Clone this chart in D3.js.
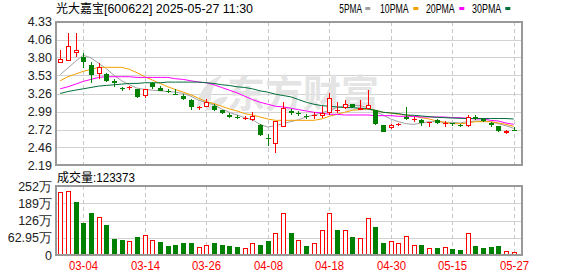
<!DOCTYPE html>
<html><head><meta charset="utf-8">
<script src="https://cdn.jsdelivr.net/npm/d3@7/dist/d3.min.js"></script>
<style>body{margin:0;background:#fff}svg{display:block}</style>
</head><body>
<svg id="c" width="578" height="276"></svg>
<script>
// ---------- data ----------
const dates = ["02-27","02-28","03-03","03-04","03-05","03-06","03-07","03-10","03-11","03-12",
"03-13","03-14","03-17","03-18","03-19","03-20","03-21","03-24","03-25","03-26",
"03-27","03-28","03-31","04-01","04-02","04-03","04-07","04-08","04-09","04-10",
"04-11","04-14","04-15","04-16","04-17","04-18","04-21","04-22","04-23","04-24",
"04-25","04-28","04-29","04-30","05-06","05-07","05-08","05-09","05-12","05-13",
"05-14","05-15","05-16","05-19","05-20","05-21","05-22","05-23","05-26","05-27"];
const open  = [3.71,3.75,3.87,3.80,3.685,3.55,3.55,3.44,3.34,3.33, 3.33,3.22,3.41,3.34,3.30,3.26,3.22,3.17,3.05,3.07,
3.08,3.01,2.94,2.905,2.88,2.86,2.79,2.59,2.51,2.77, 3.00,2.97,2.93,2.94,2.915,2.96,3.01,3.05,3.10,3.025,
3.03,3.01,2.79,2.745,2.79,2.91,2.87,2.865,2.81,2.865, 2.815,2.82,2.795,2.765,2.915,2.875,2.815,2.78,2.675,2.72];
const high  = [3.91,4.16,4.16,3.86,3.73,3.72,3.57,3.48,3.36,3.37, 3.33,3.33,3.43,3.37,3.32,3.32,3.25,3.18,3.08,3.18,
3.10,3.02,2.97,2.935,2.92,2.98,2.80,2.66,2.85,3.13, 3.03,3.00,2.96,2.98,3.07,3.27,3.13,3.17,3.11,3.16,
3.31,3.015,2.79,2.805,2.82,3.065,2.905,2.885,2.835,2.875, 2.845,2.825,2.805,2.935,2.935,2.885,2.835,2.78,2.71,2.755];
const low   = [3.71,3.75,3.80,3.64,3.41,3.48,3.43,3.35,3.30,3.31, 3.20,3.20,3.33,3.29,3.27,3.24,3.16,3.02,3.02,3.06,
2.995,2.955,2.89,2.875,2.87,2.85,2.63,2.48,2.38,2.76, 2.945,2.925,2.885,2.875,2.895,2.945,2.975,3.035,3.04,3.015,
3.025,2.795,2.68,2.725,2.78,2.865,2.835,2.775,2.765,2.805, 2.765,2.775,2.76,2.765,2.86,2.83,2.765,2.69,2.655,2.705];
const close = [3.77,3.97,3.91,3.73,3.54,3.65,3.44,3.41,3.33,3.35, 3.21,3.32,3.35,3.30,3.29,3.255,3.17,3.06,3.06,3.14,
3.02,2.97,2.91,2.885,2.89,2.92,2.64,2.58,2.85,3.05, 2.965,2.965,2.92,2.945,2.965,3.19,3.02,3.11,3.05,3.05,
3.09,2.80,2.69,2.79,2.81,2.875,2.88,2.815,2.83,2.825, 2.825,2.815,2.78,2.905,2.885,2.845,2.785,2.70,2.705,2.715];
// volume in 万
const volume = [230,233,194,116,153,138,109,59,56,51, 65,73,56,48,34,36,44,44,29,36,
44,36,34,29,27,46,36,51,82,153, 80,56,34,44,92,153,92,92,65,63,
136,104,44,51,44,70,36,36,27,27, 29,24,19,80,34,27,29,34,15,12.34];
const ma5  = [3.54,3.64,3.74,3.83,3.79,3.71,3.63,3.53,3.45,3.39, 3.34,3.32,3.31,3.30,3.29,3.28,3.26,3.22,3.16,3.13,
3.09,3.03,2.98,2.94,2.90,2.87,2.80,2.76,2.78,2.81, 2.84,2.87,2.91,2.94,2.97,3.01,3.05,3.08,3.08,3.08,
3.05,2.99,2.94,2.88,2.84,2.81,2.80,2.82,2.84,2.84, 2.83,2.83,2.82,2.84,2.85,2.85,2.84,2.81,2.78,2.74];
const ma10 = [3.45,3.51,3.55,3.59,3.62,3.65,3.65,3.65,3.65,3.62, 3.57,3.51,3.46,3.41,3.36,3.32,3.28,3.24,3.19,3.14,
3.11,3.07,3.03,3.00,2.96,2.94,2.91,2.88,2.86,2.86, 2.86,2.86,2.86,2.86,2.88,2.92,2.95,2.98,3.01,3.02,
3.03,3.01,2.98,2.97,2.95,2.94,2.92,2.90,2.88,2.85, 2.83,2.81,2.81,2.82,2.84,2.84,2.84,2.82,2.80,2.77];
const ma20 = [3.33,3.36,3.40,3.44,3.47,3.50,3.51,3.51,3.51,3.51, 3.50,3.50,3.50,3.50,3.50,3.48,3.47,3.45,3.43,3.42,
3.39,3.35,3.31,3.27,3.22,3.17,3.13,3.10,3.07,3.06, 3.04,3.02,3.00,2.98,2.97,2.95,2.95,2.94,2.94,2.94,
2.94,2.93,2.93,2.93,2.92,2.92,2.92,2.91,2.91,2.91, 2.91,2.90,2.90,2.89,2.88,2.88,2.86,2.85,2.82,2.80];
const ma30 = [3.26,3.29,3.31,3.33,3.35,3.37,3.38,3.39,3.40,3.41, 3.41,3.42,3.42,3.42,3.43,3.43,3.43,3.43,3.43,3.42,
3.41,3.39,3.38,3.36,3.35,3.33,3.30,3.28,3.25,3.23, 3.21,3.17,3.13,3.10,3.08,3.07,3.06,3.05,3.05,3.04,
3.03,3.01,2.98,2.97,2.96,2.94,2.935,2.925,2.915,2.905, 2.90,2.895,2.89,2.887,2.887,2.887,2.887,2.887,2.887,2.88];
const priceTicks = [4.33,4.06,3.80,3.53,3.26,2.99,2.72,2.46,2.19];
const volTicks = [252,189,126,62.95,0];
const volTickLabels = ["252万","189万","126万","62.95万","0"];
const dateTicks = ["03-04","03-14","03-26","04-08","04-18","04-30","05-15","05-27"];
const maNames = ["5PMA","10PMA","20PMA","30PMA"];
const titleName = "光大嘉宝";
const titleInfo = "[600622] 2025-05-27 11:30";
const volTitle = "成交量";
const volLast = ":123373";
const watermark = "东方财富";

// ---------- layout / style ----------
const L = 56, R = 522, PT = 21.7, PB = 165.3, VT = 186, VB = 255.3;
const UP = "#ff0000", DOWN = "#008000";
const maColors = ["#a0a0a0", "#f5a000", "#ff00ff", "#006f3a"];
const FONT = "'Liberation Sans', Arial, sans-serif";
const CJK = "'Noto Sans CJK SC', sans-serif";

const svg = d3.select("#c");
const x = d3.scalePoint().domain(dates).range([60.2, 513.7]);
const y = d3.scaleLinear().domain([2.19, 4.33]).range([PB, PT]);
const yv = d3.scaleLinear().domain([0, 252]).range([VB, VT]);
const px = v => Math.round(v) + 0.5;
const cx = d => Math.round(x(d));

// ---------- grids ----------
const grid = svg.append("g").attr("shape-rendering", "crispEdges");
grid.selectAll("line.hp").data(priceTicks).join("line")
  .attr("x1", L).attr("x2", R).attr("y1", d => px(y(d))).attr("y2", d => px(y(d)))
  .attr("stroke", "#d2d2d2");
grid.selectAll("line.hv").data(volTicks).join("line")
  .attr("x1", L).attr("x2", R).attr("y1", d => px(yv(d))).attr("y2", d => px(yv(d)))
  .attr("stroke", "#d2d2d2");
dateTicks.forEach(d => {
  [[PT, PB], [VT, VB]].forEach(([a, b]) => {
    grid.append("line").attr("x1", cx(d) + 0.5).attr("x2", cx(d) + 0.5)
      .attr("y1", a).attr("y2", b).attr("stroke", "#c8c8c8").attr("stroke-dasharray", "4,3");
  });
});

// ---------- watermark ----------
const wm = svg.append("g").attr("fill", "#e2e2e2").attr("opacity", 0.9);
wm.append("path").attr("d",
  "M197,110 C197,94 206,80 223,75 C214,84 210,92 211,100 C206,102 201,105 197,110 Z " +
  "M204,111 C211,101 220,96 228,97 C225,104 216,110 204,111 Z");
wm.append("text").attr("x", 227).attr("y", 107).attr("font-family", CJK)
  .attr("font-weight", 700).attr("font-size", 38).text(watermark);

// ---------- MA lines ----------
[ma5, ma10, ma20, ma30].forEach((arr, k) => {
  const line = d3.line().x((v, i) => x(dates[i])).y(v => y(v));
  svg.append("path").attr("d", line(arr)).attr("fill", "none")
    .attr("stroke", maColors[k]).attr("stroke-width", 1);
});

// ---------- candles ----------
const cg = svg.append("g").attr("shape-rendering", "crispEdges");
dates.forEach((d, i) => {
  const up = close[i] > open[i];
  const col = up ? UP : DOWN;
  const c = cx(d);
  cg.append("line").attr("x1", c + 0.5).attr("x2", c + 0.5)
    .attr("y1", y(high[i])).attr("y2", y(low[i])).attr("stroke", col);
  const top = y(Math.max(open[i], close[i])), bot = y(Math.min(open[i], close[i]));
  const h = Math.max(1, bot - top);
  if (up && h > 2) {
    cg.append("rect").attr("x", c - 1.5).attr("y", Math.round(top) + 0.5)
      .attr("width", 4).attr("height", Math.max(1, Math.round(h) - 1))
      .attr("fill", "#fff").attr("stroke", col);
  } else {
    cg.append("rect").attr("x", c - 2).attr("y", Math.round(top))
      .attr("width", 5).attr("height", Math.max(1, Math.round(h))).attr("fill", col);
  }
});

// ---------- volume ----------
const vg = svg.append("g").attr("shape-rendering", "crispEdges");
dates.forEach((d, i) => {
  const prev = i === 0 ? open[0] : close[i - 1];
  const up = close[i] >= prev;
  const c = cx(d);
  const t = yv(volume[i]);
  if (up) {
    vg.append("rect").attr("x", c - 1.5).attr("y", Math.round(t) + 0.5)
      .attr("width", 4).attr("height", Math.max(1, Math.round(VB - t) - 1))
      .attr("fill", "#fff").attr("stroke", UP);
  } else {
    vg.append("rect").attr("x", c - 2).attr("y", Math.round(t))
      .attr("width", 5).attr("height", Math.max(1, Math.round(VB) - Math.round(t))).attr("fill", DOWN);
  }
});

// ---------- frames ----------
const fr = svg.append("g").attr("fill", "none").attr("stroke", "#999").attr("stroke-width", 1.5)
  .attr("shape-rendering", "crispEdges");
fr.append("rect").attr("x", L).attr("y", Math.round(PT)).attr("width", R - L).attr("height", Math.round(PB) - Math.round(PT));
fr.append("rect").attr("x", L).attr("y", VT).attr("width", R - L).attr("height", Math.round(VB) - VT);

// ---------- axis labels ----------
svg.append("g").selectAll("text").data(priceTicks).join("text")
  .attr("x", 52).attr("y", d => y(d)).attr("dy", "0.36em").attr("text-anchor", "end")
  .attr("font-family", FONT).attr("font-size", 12.5).attr("fill", "#222")
  .text(d => d.toFixed(2));
svg.append("g").selectAll("text").data(volTicks).join("text")
  .attr("x", 52).attr("y", d => yv(d)).attr("dy", "0.36em").attr("text-anchor", "end")
  .attr("font-family", FONT).attr("font-size", 12.5).attr("fill", "#222")
  .text((d, i) => volTickLabels[i]);
svg.append("g").selectAll("text").data(dateTicks).join("text")
  .attr("x", d => cx(d) + 0.5).attr("y", 270).attr("text-anchor", "middle")
  .attr("font-family", FONT).attr("font-size", 12).attr("fill", "#ff0000")
  .attr("textLength", 29).attr("lengthAdjust", "spacingAndGlyphs")
  .text(d => d);

// ---------- titles ----------
svg.append("text").attr("x", 56).attr("y", 12.5).attr("font-family", CJK)
  .attr("font-size", 12).attr("fill", "#000").text(titleName);
svg.append("text").attr("x", 104).attr("y", 12.5).attr("font-family", FONT)
  .attr("font-size", 12.5).attr("fill", "#000")
  .attr("textLength", 149).attr("lengthAdjust", "spacingAndGlyphs").text(titleInfo);
svg.append("text").attr("x", 57).attr("y", 182).attr("font-family", CJK)
  .attr("font-size", 12).attr("fill", "#000").text(volTitle);
svg.append("text").attr("x", 93).attr("y", 182).attr("font-family", FONT)
  .attr("font-size", 12.5).attr("fill", "#000")
  .attr("textLength", 42).attr("lengthAdjust", "spacingAndGlyphs").text(volLast);

// ---------- legend ----------
const legX = [339.3, 380, 426, 472], legW = [22.7, 28.7, 28.7, 29.3], sqX = [365.3, 413.3, 459.3, 505.3];
maNames.forEach((n, k) => {
  svg.append("text").attr("x", legX[k]).attr("y", 12.5).attr("font-family", FONT)
    .attr("font-size", 12.5).attr("fill", "#000")
    .attr("textLength", legW[k]).attr("lengthAdjust", "spacingAndGlyphs").text(n);
  svg.append("rect").attr("x", sqX[k]).attr("y", 7).attr("width", 5).attr("height", 3)
    .attr("fill", maColors[k]);
});
</script>
</body></html>
